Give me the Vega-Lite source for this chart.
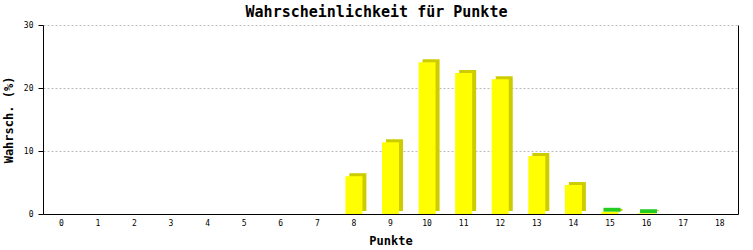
{
  "$schema": "https://vega.github.io/schema/vega-lite/v6.json",
  "autosize": {"type": "none"},
  "width": 695,
  "height": 189,
  "padding": {"left": 43, "top": 25, "right": 15, "bottom": 36},
  "background": "white",
  "title": {
    "text": "Wahrscheinlichkeit für Punkte",
    "font": "DejaVu Sans Mono",
    "fontSize": 15,
    "fontWeight": "bold",
    "color": "black",
    "anchor": "middle",
    "dx": -14,
    "offset": 1
  },
  "data": {
    "values": [
      {"Punkte": 0, "W": 0},
      {"Punkte": 1, "W": 0},
      {"Punkte": 2, "W": 0},
      {"Punkte": 3, "W": 0},
      {"Punkte": 4, "W": 0},
      {"Punkte": 5, "W": 0},
      {"Punkte": 6, "W": 0},
      {"Punkte": 7, "W": 0},
      {"Punkte": 8, "W": 6.0},
      {"Punkte": 9, "W": 11.4},
      {"Punkte": 10, "W": 24.1},
      {"Punkte": 11, "W": 22.4},
      {"Punkte": 12, "W": 21.4},
      {"Punkte": 13, "W": 9.2},
      {"Punkte": 14, "W": 4.6},
      {"Punkte": 15, "W": 0.35},
      {"Punkte": 16, "W": 0.12},
      {"Punkte": 17, "W": 0},
      {"Punkte": 18, "W": 0}
    ]
  },
  "encoding": {
    "x": {
      "field": "Punkte",
      "type": "ordinal",
      "scale": {"paddingInner": 0, "paddingOuter": 0},
      "axis": {
        "title": "Punkte",
        "labelAngle": 0,
        "ticks": false,
        "domainColor": "black",
        "labelFont": "DejaVu Sans Mono",
        "labelFontSize": 8,
        "labelColor": "black",
        "labelPadding": 5,
        "titleFont": "DejaVu Sans Mono",
        "titleFontSize": 12,
        "titleFontWeight": "bold",
        "titleColor": "black",
        "titlePadding": 8
      }
    }
  },
  "layer": [
    {
      "transform": [{"filter": "datum.W > 0"}],
      "mark": {"type": "bar", "size": 17, "xOffset": 4, "yOffset": -3, "color": "#cccc00"},
      "encoding": {
        "y": {
          "field": "W",
          "type": "quantitative",
          "scale": {"domain": [0, 30], "nice": false},
          "axis": {
            "orient": "left",
            "title": "Wahrsch. (%)",
            "values": [0, 10, 20, 30],
            "tickColor": "black",
            "tickSize": 5,
            "domainColor": "black",
            "labelFont": "DejaVu Sans Mono",
            "labelFontSize": 8,
            "labelColor": "black",
            "labelPadding": 5,
            "gridColor": "#bbbbbb",
            "gridDash": [2, 2],
            "titleFont": "DejaVu Sans Mono",
            "titleFontSize": 12,
            "titleFontWeight": "bold",
            "titleColor": "black",
            "titlePadding": 8
          }
        }
      }
    },
    {
      "mark": {"type": "rule", "color": "black", "strokeWidth": 0},
      "encoding": {
        "y": {
          "field": "W",
          "type": "quantitative",
          "axis": {
            "orient": "right",
            "title": null,
            "labels": false,
            "ticks": false,
            "grid": false,
            "domainColor": "black"
          }
        }
      }
    },
    {
      "transform": [{"filter": "datum.W > 0 && datum.Punkte >= 15"}],
      "mark": {"type": "bar", "size": 17, "xOffset": 2, "yOffset": -4, "y2Offset": 0, "color": "#22cc22"},
      "encoding": {
        "y": {"field": "W", "type": "quantitative", "axis": null},
        "y2": {"field": "W"}
      }
    },
    {
      "mark": {"type": "bar", "size": 17, "color": "#ffff00"},
      "encoding": {
        "y": {"field": "W", "type": "quantitative", "axis": null}
      }
    }
  ],
  "resolve": {"axis": {"y": "independent"}},
  "config": {"view": {"stroke": null}}
}
